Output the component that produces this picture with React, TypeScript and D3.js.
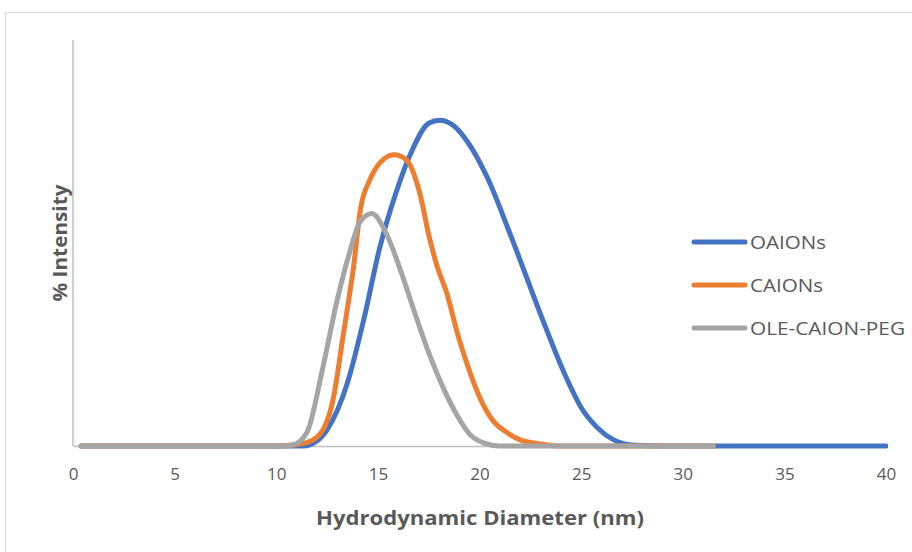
import React, { useEffect, useRef } from "react";
import * as d3 from "d3";

// series (diameter in nm, % intensity)
const oaionsX = [0.4, 5, 10, 11.3, 12.0, 12.5, 13.5, 14.3, 15.1, 15.9, 16.7, 17.5, 18.05, 18.7, 19.4, 20.35, 21.6, 23.0, 24.3, 25.0, 25.8, 26.6, 27.5, 29, 35, 40];
const oaionsY = [0, 0, 0, 0, 0.25, 0.8, 3.1, 6.2, 9.8, 12.5, 14.6, 15.9, 16.05, 15.8, 15.0, 13.3, 10.2, 6.5, 3.3, 1.9, 0.9, 0.3, 0.05, 0, 0, 0];

const caionsX = [0.4, 5, 10, 10.8, 11.6, 12.3, 12.8, 13.3, 13.8, 14.15, 14.6, 15.1, 15.8, 16.4, 17.05, 17.55, 17.9, 18.4, 18.9, 19.4, 20.1, 20.7, 21.3, 22.0, 23.0, 23.8, 31.5];
const caionsY = [0, 0, 0, 0.05, 0.2, 0.8, 2.3, 5.5, 8.8, 11.7, 13.1, 13.95, 14.35, 14.1, 12.5, 10.2, 8.9, 7.5, 5.6, 4.0, 2.2, 1.2, 0.7, 0.3, 0.1, 0, 0];

const pegX = [0.4, 5, 10, 10.8, 11.5, 12.3, 13.0, 13.6, 14.1, 14.7, 15.4, 16.1, 16.8, 17.5, 18.2, 18.9, 19.5, 20.2, 21.0, 25, 31.5];
const pegY = [0, 0, 0, 0.05, 0.65, 3.9, 7.2, 9.5, 11.0, 11.45, 10.5, 8.7, 6.6, 4.6, 2.9, 1.5, 0.6, 0.15, 0, 0, 0];

const seriesNames = ["OAIONs", "CAIONs", "OLE-CAION-PEG"];
const seriesColors = ["#4472C4", "#ED7D31", "#A5A5A5"];
const xTicks = [0, 5, 10, 15, 20, 25, 30, 35, 40];

const W = 912;
const H = 552;
const FONT = "'Open Sans', 'Liberation Sans', sans-serif";

export default function App() {
  const ref = useRef<SVGSVGElement>(null);

  useEffect(() => {
    const svg = d3.select(ref.current);
    svg.selectAll("*").remove();

    const x = d3.scaleLinear().domain([0, 40]).range([73, 886]);
    const y = d3.scaleLinear().domain([0, 20]).range([446, 40]);

    // chart frame
    svg.append("rect")
      .attr("x", 5.5).attr("y", 12.5)
      .attr("width", 1000).attr("height", 1000)
      .attr("fill", "#fff")
      .attr("stroke", "#d9d9d9");

    // y axis line
    svg.append("line")
      .attr("x1", x(0)).attr("x2", x(0))
      .attr("y1", y(20)).attr("y2", y(0))
      .attr("stroke", "#bfbfbf").attr("stroke-width", 1.5);

    // x axis
    const xAxis = svg.append("g")
      .attr("transform", "translate(0," + y(0) + ")")
      .call(d3.axisBottom(x).tickValues(xTicks).tickSize(0).tickPadding(22));
    xAxis.select(".domain").attr("stroke", "#bfbfbf").attr("stroke-width", 1.5);
    xAxis.selectAll("text")
      .attr("fill", "#595959")
      .style("font-family", FONT)
      .style("font-size", "17px");

    svg.append("clipPath").attr("id", "plot-clip")
      .append("rect").attr("x", 0).attr("y", 0).attr("width", 888).attr("height", H);

    const line = d3.line<[number, number]>()
      .curve(d3.curveMonotoneX)
      .x(d => x(d[0]))
      .y(d => y(d[1]));

    const series: [number, number][][] = [
      oaionsX.map((v, i) => [v, oaionsY[i]]),
      caionsX.map((v, i) => [v, caionsY[i]]),
      pegX.map((v, i) => [v, pegY[i]]),
    ];

    const plot = svg.append("g").attr("clip-path", "url(#plot-clip)");
    series.forEach((data, i) => {
      plot.append("path")
        .datum(data)
        .attr("d", line)
        .attr("fill", "none")
        .attr("stroke", seriesColors[i])
        .attr("stroke-width", 5)
        .attr("stroke-linecap", "round")
        .attr("stroke-linejoin", "round");
    });

    // legend
    const legendY = [242, 285, 328];
    const legendW = [76, 73, 155];
    seriesNames.forEach((name, i) => {
      svg.append("line")
        .attr("x1", 694).attr("x2", 745)
        .attr("y1", legendY[i]).attr("y2", legendY[i])
        .attr("stroke", seriesColors[i])
        .attr("stroke-width", 5)
        .attr("stroke-linecap", "round");
      svg.append("text")
        .attr("x", 750).attr("y", legendY[i])
        .attr("dominant-baseline", "central")
        .attr("fill", "#595959")
        .attr("textLength", legendW[i])
        .attr("lengthAdjust", "spacingAndGlyphs")
        .style("font-family", FONT)
        .style("font-size", "18px")
        .text(name);
    });

    // axis titles
    svg.append("text")
      .attr("x", 480).attr("y", 518)
      .attr("text-anchor", "middle")
      .attr("dominant-baseline", "central")
      .attr("fill", "#595959")
      .attr("textLength", 328)
      .attr("lengthAdjust", "spacingAndGlyphs")
      .style("font-family", FONT)
      .style("font-weight", "bold")
      .style("font-size", "19px")
      .text("Hydrodynamic Diameter (nm)");

    svg.append("text")
      .attr("transform", "translate(60,243) rotate(-90)")
      .attr("text-anchor", "middle")
      .attr("dominant-baseline", "central")
      .attr("fill", "#595959")
      .attr("textLength", 117)
      .attr("lengthAdjust", "spacingAndGlyphs")
      .style("font-family", FONT)
      .style("font-weight", "bold")
      .style("font-size", "19px")
      .text("% Intensity");
  }, []);

  return (
    <svg
      ref={ref}
      width={W}
      height={H}
      style={{ position: "absolute", left: 0, top: 0, background: "#fff" }}
    />
  );
}
